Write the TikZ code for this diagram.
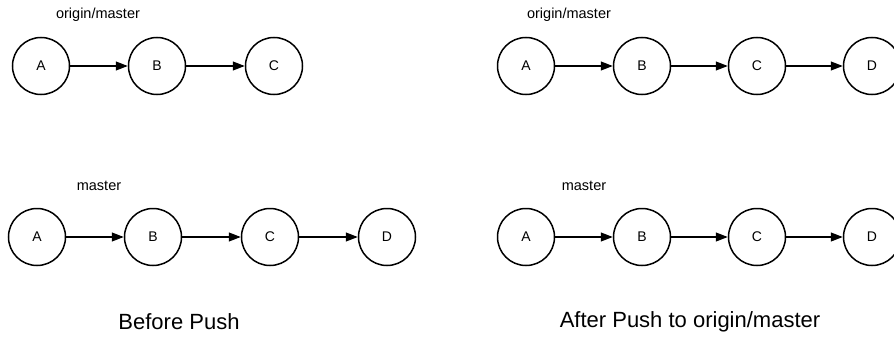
\documentclass[tikz,border=0pt]{standalone}
\usepackage{fontspec}
\setmainfont{Liberation Sans}
\usetikzlibrary{arrows.meta}

\begin{document}
\begin{tikzpicture}[x=1pt,y=-1pt]
		\tikzset{commit/.style = {shape=circle, draw, line width=1.5pt, minimum size=57pt, inner sep=0pt, font=\fontsize{14}{16}\selectfont}}
		\tikzset{link/.style = {line width=1.2pt, -{Triangle[length=12pt,width=9pt]}}}
		\tikzset{branch/.style = {font=\fontsize{14.5}{17}\selectfont}}
		\tikzset{caption/.style = {font=\fontsize{22}{26}\selectfont}}

		\useasboundingbox (0,0) rectangle (894,337);

		% before push
		\node[branch] (BO) at (98,15) {origin/master};
		\node[commit] (BO_1) at (41,66) {A};
		\node[commit] (BO_2) at (157,66) {B};
		\node[commit] (BO_3) at (274,66) {C};

		\draw[link] (BO_1)--(BO_2);
		\draw[link] (BO_2)--(BO_3);

		\node[branch] (BM) at (99,186) {master};
		\node[commit] (BM_1) at (37,237) {A};
		\node[commit] (BM_2) at (153,237) {B};
		\node[commit] (BM_3) at (270,237) {C};
		\node[commit] (BM_4) at (387,237) {D};

		\draw[link] (BM_1)--(BM_2);
		\draw[link] (BM_2)--(BM_3);
		\draw[link] (BM_3)--(BM_4);

		\node[caption] (BC) at (179,322) {Before Push};

		% after push
		\node[branch] (AO) at (569,15) {origin/master};
		\node[commit] (AO_1) at (526,66) {A};
		\node[commit] (AO_2) at (642,66) {B};
		\node[commit] (AO_3) at (757,66) {C};
		\node[commit] (AO_4) at (872,66) {D};

		\draw[link] (AO_1)--(AO_2);
		\draw[link] (AO_2)--(AO_3);
		\draw[link] (AO_3)--(AO_4);

		\node[branch] (AM) at (584,186) {master};
		\node[commit] (AM_1) at (526,237) {A};
		\node[commit] (AM_2) at (642,237) {B};
		\node[commit] (AM_3) at (757,237) {C};
		\node[commit] (AM_4) at (872,237) {D};

		\draw[link] (AM_1)--(AM_2);
		\draw[link] (AM_2)--(AM_3);
		\draw[link] (AM_3)--(AM_4);

		\node[caption] (AC) at (690,322) {After Push to origin/master};

	\end{tikzpicture}
\end{document}
